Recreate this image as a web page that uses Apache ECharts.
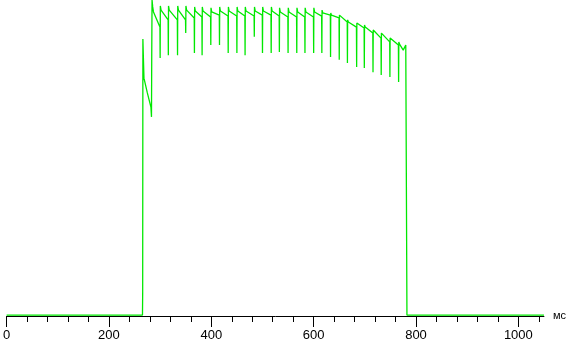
<!DOCTYPE html>
<html>
<head>
<meta charset="utf-8">
<script src="https://cdn.jsdelivr.net/npm/echarts@6/dist/echarts.min.js"></script>
<style>
html,body{margin:0;padding:0;background:#fff;}
#chart{width:569px;height:342px;}
</style>
</head>
<body>
<div id="chart"></div>
<script>
// Tick labels (ms)
const majorTicks = [0, 200, 400, 600, 800, 1000];
const minorTicks = [40, 80, 120, 160, 240, 280, 320, 360, 440, 480, 520, 560, 640, 680, 720, 760, 840, 880, 920, 960, 1040];
const axisName = 'мс';

// Leading part: off, switch-on transient (time ms, level)
const headTimes  = [0, 265.5, 265.9, 266.3, 267.3, 268.4, 275, 282, 283.1, 283.6, 284.2, 285.5, 287];
const headValues = [0, 0, 7.3, 87.6, 81.6, 75.2, 70.5, 66.0, 62.9, 82.2, 100, 97.8, 96.2];

// Flicker cycles (~60 Hz): dip time, level just before dip, dip bottom, peak after dip, shoulder after peak
const dipTimes = [300, 316, 334, 350, 367, 382, 399, 416, 433, 450, 466, 484, 500, 517, 533, 550, 567, 583, 600, 616, 633, 650, 666, 684, 699, 716, 732, 749, 766];
const beforeDip = [91.4, 93.7, 93.7, 93.7, 94.3, 94.6, 94.6, 95.2, 94.9, 94.9, 94.9, 94.9, 95.2, 95.2, 94.9, 94.6, 94.6, 94.6, 94.6, 94.9, 95.2, 94.3, 93.0, 91.4, 91.1, 89.5, 87.9, 86.7, 85.7];
const dipLevels = [81.6, 82.5, 82.5, 89.5, 83.2, 82.5, 85.7, 85.7, 83.2, 83.2, 82.5, 88.3, 83.2, 83.2, 83.5, 83.2, 83.2, 83.2, 83.2, 83.2, 81.9, 81.0, 80.0, 78.7, 78.4, 77.1, 76.2, 75.6, 74.0];
const peakLevels = [98.1, 98.1, 98.1, 98.1, 97.8, 97.8, 97.5, 97.8, 97.8, 97.8, 97.8, 97.8, 97.8, 97.8, 97.5, 97.5, 97.5, 97.5, 97.5, 96.8, 95.9, 95.2, 93.7, 92.7, 92.1, 90.5, 89.5, 87.9, 86.7];
const shoulderLevels = [96.8, 96.8, 96.8, 96.8, 96.5, 96.5, 96.2, 96.5, 96.5, 96.5, 96.5, 96.5, 96.5, 96.5, 96.2, 96.2, 96.2, 96.2, 96.2, 95.9, 95.2, 94.6, 93.0, 92.4, 91.4, 90.2, 89.2, 87.6, 86.0];

// Trailing part: last decay and switch-off
const tailTimes  = [775, 777.5, 780, 781.5, 782, 782.3, 1050];
const tailValues = [84.1, 84.1, 85.7, 86.3, 86.3, 0, 0];

const data = [];
headTimes.forEach((t, i) => data.push([t, headValues[i]]));
dipTimes.forEach((t, i) => {
  data.push([t - 0.4, beforeDip[i]]);
  data.push([t, dipLevels[i]]);
  data.push([t + 0.4, peakLevels[i]]);
  data.push([t + 1.8, shoulderLevels[i]]);
});
tailTimes.forEach((t, i) => data.push([t, tailValues[i]]));

const chart = echarts.init(document.getElementById('chart'), null, {renderer: 'canvas'});
chart.setOption({
  animation: false,
  backgroundColor: '#ffffff',
  grid: {left: 4, right: 21, top: 0, bottom: 26, containLabel: false},
  xAxis: [{
    type: 'value', min: 0, max: 1050, interval: 200,
    name: axisName, nameLocation: 'end', nameGap: 9,
    nameTextStyle: {color: '#000', fontSize: 11, fontFamily: 'Liberation Sans', verticalAlign: 'middle'},
    axisLine: {onZero: false, lineStyle: {color: '#000', width: 1}},
    axisTick: {show: true, length: 11, customValues: majorTicks, lineStyle: {color: '#000', width: 1}},
    axisLabel: {customValues: majorTicks, formatter: v => String(v), color: '#000', fontSize: 13, fontFamily: 'Liberation Sans', margin: 13},
    splitLine: {show: false}
  }, {
    type: 'value', min: 0, max: 1050, position: 'bottom',
    axisLine: {show: false, onZero: false},
    axisTick: {show: true, length: 6, customValues: minorTicks, lineStyle: {color: '#000', width: 1}},
    axisLabel: {show: false},
    splitLine: {show: false}
  }],
  yAxis: {type: 'value', min: -0.3, max: 100, show: false},
  series: [{
    type: 'line', xAxisIndex: 0, data: data, showSymbol: false, symbol: 'none',
    lineStyle: {color: '#00e800', width: 1.3}, smooth: false
  }]
});
</script>
</body>
</html>
